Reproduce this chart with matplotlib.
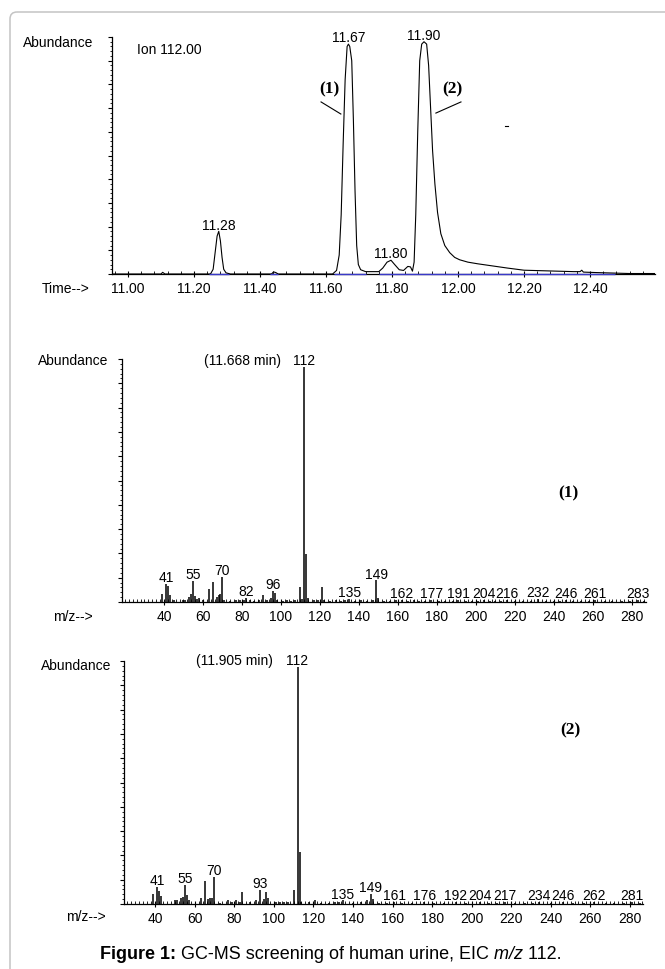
import matplotlib
matplotlib.use('Agg')
import matplotlib.pyplot as plt
from matplotlib import font_manager
from matplotlib.patches import FancyBboxPatch
from matplotlib.ticker import MultipleLocator, FixedLocator, FormatStrFormatter

# ---- data ----
# chromatogram, ion 112 (abundance in % of full scale)
time_min = [10.952, 11.10, 11.105, 11.112,
            11.25, 11.258, 11.264, 11.270, 11.275, 11.280, 11.285, 11.290, 11.297, 11.31,
            11.435, 11.441, 11.448, 11.455,
            11.62, 11.632, 11.640, 11.646, 11.652, 11.658, 11.664, 11.668, 11.672, 11.678,
            11.683, 11.688, 11.693, 11.698, 11.705, 11.72,
            11.76, 11.772, 11.785, 11.797, 11.808, 11.822, 11.835, 11.848, 11.856, 11.862,
            11.867, 11.872, 11.878, 11.884, 11.890, 11.897, 11.905, 11.911, 11.917, 11.923,
            11.930, 11.938, 11.948, 11.960, 11.975, 11.990, 12.005,
            12.03, 12.06, 12.10, 12.15, 12.20, 12.25, 12.30, 12.35, 12.37, 12.375, 12.38,
            12.42, 12.47, 12.52, 12.597]
tic_abund = [0, 0, 0.7, 0,
             0, 2, 9, 16, 18, 14, 7, 2, 0.5, 0,
             0, 0.9, 0.6, 0,
             0, 1.5, 8, 25, 55, 82, 96, 97, 96, 90,
             65, 35, 12, 4, 1.8, 1.0,
             1.0, 2.5, 5.0, 5.8, 4.0, 1.8, 1.5, 3.2, 3.0, 1.2,
             5, 25, 60, 90, 97, 98, 97, 88, 70, 52,
             38, 26, 17, 12, 9, 7, 6,
             5.0, 4.3, 3.5, 2.5, 1.6, 1.4, 1.2, 1.0, 1.0, 1.6, 0.8,
             0.6, 0.4, 0.2, 0.2]
peak_rt = [11.275, 11.668, 11.797, 11.897]
peak_labels = ['11.28', '11.67', '11.80', '11.90']
baseline_segments = [(11.245, 11.305), (11.43, 11.455), (11.625, 11.72), (11.76, 12.475)]

# mass spectrum (1), 11.668 min
mz1 = [39, 41, 42, 43, 45, 50, 51, 53, 54, 55, 56, 57, 58, 60, 63, 65, 67, 68, 69, 70,
       71, 74, 77, 79, 81, 82, 84, 86, 89, 91, 93, 95, 96, 97, 98, 101, 103, 105, 107, 110,
       111, 112, 113, 114, 117, 119, 121, 122, 125, 128, 131, 133, 135, 138, 141, 144, 147, 149, 150, 153,
       156, 159, 162, 165, 168, 171, 174, 177, 181, 184, 188, 191, 195, 198, 201, 204, 207, 210, 213, 216,
       220, 224, 228, 232, 236, 240, 243, 246, 250, 254, 258, 261, 266, 270, 275, 279, 283, 286]
ab1 = [3.3, 7.6, 6.6, 2.7, 0.8, 1.0, 0.8, 2.0, 3.3, 8.6, 2.5, 1.2, 1.5, 0.8, 5.5, 8.4, 2.0, 2.7, 3.4, 10.3,
       1.0, 0.6, 1.0, 0.8, 1.0, 1.6, 1.0, 0.6, 0.8, 3.0, 0.8, 1.5, 4.5, 3.7, 1.0, 0.6, 0.8, 0.6, 0.8, 6.2,
       1.2, 96.7, 19.9, 1.8, 0.8, 1.0, 6.2, 1.0, 0.6, 0.8, 0.6, 0.8, 1.2, 0.6, 0.8, 0.6, 0.8, 8.9, 1.5, 0.6,
       0.6, 0.8, 1.0, 0.6, 0.8, 0.6, 0.6, 1.0, 0.6, 0.6, 0.6, 1.0, 0.6, 0.6, 0.6, 1.0, 0.6, 0.6, 0.6, 1.0,
       0.6, 0.6, 0.6, 1.4, 0.6, 0.6, 0.6, 1.0, 0.6, 0.6, 0.6, 1.0, 0.6, 0.6, 0.6, 0.6, 1.0, 0.6]
labels1 = [41, 55, 70, 82, 96, 112, 135, 149, 162, 177, 191, 204, 216, 232, 246, 261, 283]

# mass spectrum (2), 11.905 min
mz2 = [39, 41, 42, 43, 50, 51, 53, 54, 55, 56, 57, 63, 65, 67, 68, 69, 70, 73, 77, 79,
       81, 83, 84, 88, 91, 93, 95, 96, 97, 101, 103, 105, 107, 110, 112, 113, 114, 118, 121, 124,
       128, 131, 133, 135, 140, 144, 147, 149, 150, 153, 157, 161, 165, 170, 176, 181, 186, 192, 197, 204,
       209, 213, 217, 222, 227, 231, 234, 240, 246, 251, 257, 262, 268, 272, 277, 281, 285]
ab2 = [4.1, 6.9, 5.2, 3.4, 1.5, 1.5, 2.5, 3.0, 7.8, 3.5, 1.5, 2.5, 9.3, 2.0, 2.5, 2.5, 11.0, 0.6, 1.5, 1.0,
       1.5, 1.0, 4.8, 1.0, 1.5, 5.9, 2.0, 5.1, 2.5, 0.8, 1.0, 1.0, 1.0, 5.9, 97.5, 21.3, 1.0, 1.0, 1.5, 0.6,
       0.6, 0.8, 0.8, 1.5, 0.6, 1.0, 1.5, 4.1, 2.0, 0.6, 0.6, 0.8, 0.6, 0.6, 0.8, 0.6, 0.6, 0.8, 0.6, 0.8,
       0.6, 0.6, 0.8, 0.6, 0.6, 0.6, 0.8, 0.6, 0.8, 0.6, 0.6, 0.8, 0.6, 0.6, 0.6, 0.8, 0.6]
labels2 = [41, 55, 70, 93, 112, 135, 149, 161, 176, 192, 204, 217, 234, 246, 262, 281]
mz_ticks = [40, 60, 80, 100, 120, 140, 160, 180, 200, 220, 240, 260, 280]

# ---- fonts ----
names = {f.name for f in font_manager.fontManager.ttflist}
if 'Liberation Sans Narrow' in names:
    SANS, FS = 'Liberation Sans Narrow', 11
else:
    SANS, FS = 'Liberation Sans', 10
plt.rcParams['font.family'] = [SANS, 'DejaVu Sans']

W, H = 665, 970
fig = plt.figure(figsize=(W / 100, H / 100), dpi=100)

# background axes in pixel coords (y down) for border and free text
ax0 = fig.add_axes([0, 0, 1, 1])
ax0.set_xlim(0, W)
ax0.set_ylim(H, 0)
ax0.axis('off')
ax0.add_patch(FancyBboxPatch((10, 13), 720, 1020, boxstyle='round,pad=0,rounding_size=7',
                             fill=False, ec='#c4c4c4', lw=1.1))


def px_axes(left, top, right, bottom):
    return fig.add_axes([left / W, 1 - bottom / H, (right - left) / W, (bottom - top) / H])


def style(ax):
    ax.patch.set_visible(False)
    for s in ['top', 'right']:
        ax.spines[s].set_visible(False)
    for s in ['left', 'bottom']:
        ax.spines[s].set_linewidth(0.9)
    ax.set_ylim(0, 100)
    ax.yaxis.set_major_locator(MultipleLocator(10))
    ax.yaxis.set_minor_locator(MultipleLocator(2))
    ax.tick_params(axis='y', which='major', direction='out', length=2.6, width=0.8, labelleft=False)
    ax.tick_params(axis='y', which='minor', direction='out', length=1.3, width=0.6)
    ax.tick_params(axis='x', which='major', direction='inout', length=4.5, width=0.8,
                   labelsize=FS, pad=2.5)
    ax.tick_params(axis='x', which='minor', direction='in', length=2.2, width=0.6)


def label_peak(ax, x, y, s, dx=0):
    ax.annotate(s, (x, y), xytext=(dx, 2), textcoords='offset points',
                ha='center', va='baseline', fontsize=FS)


# ---- chromatogram ----
ax1 = px_axes(112, 38, 655, 275)
style(ax1)
ax1.set_xlim(10.9515, 12.597)
ax1.xaxis.set_major_locator(MultipleLocator(0.2))
ax1.xaxis.set_minor_locator(MultipleLocator(0.04))
ax1.xaxis.set_major_formatter(FormatStrFormatter('%.2f'))
for a, b in baseline_segments:
    ax1.plot([a, b], [0, 0], color='#3a3ac8', lw=1.0, solid_capstyle='butt', clip_on=False, zorder=3)
ax1.plot(time_min, tic_abund, color='black', lw=0.8, zorder=4)
for rt, s in zip(peak_rt, peak_labels):
    label_peak(ax1, rt, tic_abund[time_min.index(rt)], s)
# peak markers (1) and (2)
ax1.plot([11.585, 11.645], [72.6, 67.5], color='black', lw=0.8)
ax1.plot([12.009, 11.933], [72.6, 67.9], color='black', lw=0.8)
ax1.text(11.609, 78.5, '(1)', ha='center', va='center', family='Liberation Serif',
         fontweight='bold', fontsize=12.5)
ax1.text(11.982, 78.5, '(2)', ha='center', va='center', family='Liberation Serif',
         fontweight='bold', fontsize=12.5)
ax1.plot([12.143, 12.153], [62.4, 62.4], color='black', lw=0.8)

# ---- spectrum (1) ----
ax2 = px_axes(122, 360, 646, 603)
style(ax2)
ax2.set_xlim(18.5, 287.2)
ax2.vlines(mz1, 0, ab1, color='black', lw=1.1)
for m in labels1:
    label_peak(ax2, m, ab1[mz1.index(m)], str(m))
ax2.annotate('(11.668 min)', (112, ab1[mz1.index(112)]), xytext=(-17, 2),
             textcoords='offset points', ha='right', va='baseline', fontsize=FS)
ax2.text(0.851, 0.45, '(1)', transform=ax2.transAxes, ha='center', va='center',
         family='Liberation Serif', fontweight='bold', fontsize=12.5)

# ---- spectrum (2) ----
ax3 = px_axes(124, 662, 643, 905)
style(ax3)
ax3.set_xlim(24.3, 286.6)
ax3.vlines(mz2, 0, ab2, color='black', lw=1.1)
for m in labels2:
    label_peak(ax3, m, ab2[mz2.index(m)], str(m))
ax3.annotate('(11.905 min)', (112, ab2[mz2.index(112)]), xytext=(-18, 2),
             textcoords='offset points', ha='right', va='baseline', fontsize=FS)
ax3.text(0.86, 0.72, '(2)', transform=ax3.transAxes, ha='center', va='center',
         family='Liberation Serif', fontweight='bold', fontsize=12.5)

for ax in (ax2, ax3):
    ax.xaxis.set_major_locator(FixedLocator(mz_ticks))
    ax.xaxis.set_minor_locator(MultipleLocator(2))

# ---- free text ----
ax0.text(93, 43, 'Abundance', ha='right', va='center', fontsize=FS)
ax0.text(137, 50, 'Ion 112.00', ha='left', va='center', fontsize=FS)
ax0.text(90, 289, 'Time-->', ha='right', va='center', fontsize=FS)
ax0.text(108, 361, 'Abundance', ha='right', va='center', fontsize=FS)
ax0.text(93, 617, 'm/z-->', ha='right', va='center', fontsize=FS)
ax0.text(111, 666, 'Abundance', ha='right', va='center', fontsize=FS)
ax0.text(106, 917, 'm/z-->', ha='right', va='center', fontsize=FS)

cap_fs = 13
t1 = ax0.text(100, 955, 'Figure 1:', ha='left', va='center', family='Liberation Sans',
              fontweight='bold', fontsize=cap_fs)
t2 = ax0.annotate(' GC-MS screening of human urine, EIC', xy=(1, 0), xycoords=t1,
                  ha='left', va='bottom', family='Liberation Sans', fontsize=cap_fs)
t3 = ax0.annotate(' m/z', xy=(1, 0), xycoords=t2, ha='left', va='bottom',
                  family='Liberation Sans', style='italic', fontsize=cap_fs)
ax0.annotate(' 112.', xy=(1, 0), xycoords=t3, ha='left', va='bottom',
             family='Liberation Sans', fontsize=cap_fs)

fig.savefig('out.png', dpi=100)
